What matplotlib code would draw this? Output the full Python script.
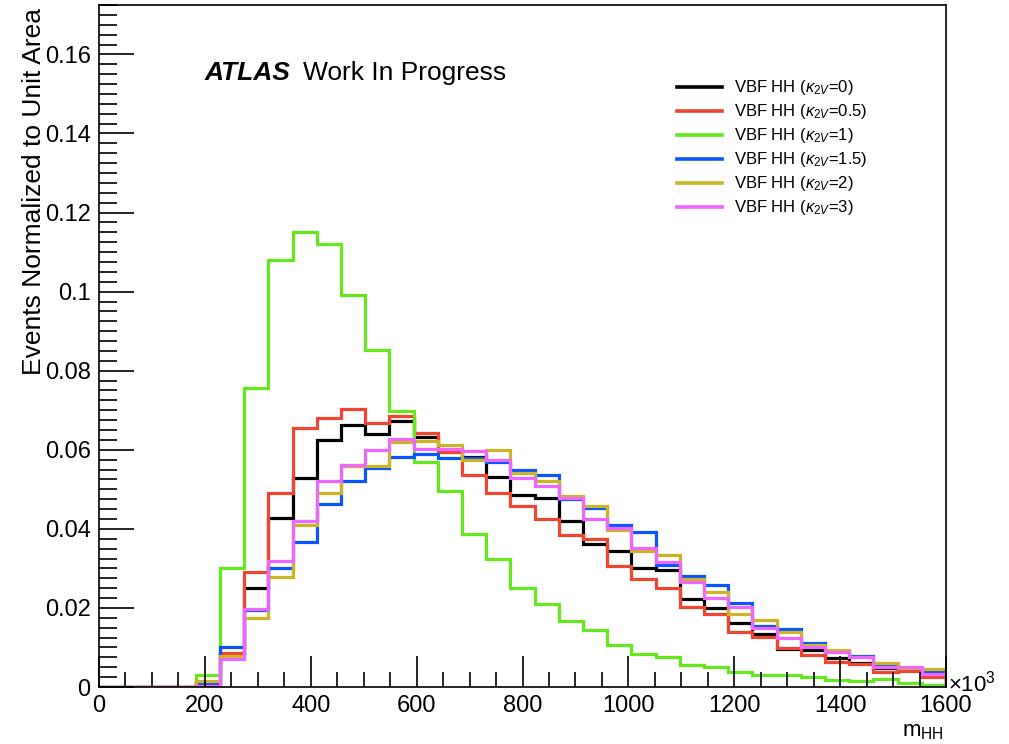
import matplotlib
matplotlib.use("Agg")
import matplotlib.pyplot as plt
from matplotlib.ticker import MultipleLocator
from matplotlib.lines import Line2D
import numpy as np

plt.rcParams['font.family'] = ['Liberation Sans', 'DejaVu Sans']
plt.rcParams['mathtext.fontset'] = 'custom'
plt.rcParams['mathtext.rm'] = 'Liberation Sans'
plt.rcParams['mathtext.it'] = 'Liberation Sans:italic'

# 35 bins from 0 to 1600 GeV (x10^3 MeV)
bin_edges = np.linspace(0, 1600, 36)

k2v_0 = [0, 0, 0, 0, 0.0010, 0.0084, 0.0250, 0.0427, 0.0528, 0.0624, 0.0662, 0.0640,
         0.0672, 0.0632, 0.0596, 0.0582, 0.0531, 0.0486, 0.0478, 0.0419, 0.0362, 0.0345,
         0.0301, 0.0296, 0.0223, 0.0201, 0.0161, 0.0133, 0.0095, 0.0094, 0.0073, 0.0060,
         0.0047, 0.0045, 0.0030]
k2v_05 = [0, 0, 0, 0, 0.0012, 0.0086, 0.0292, 0.0490, 0.0655, 0.0680, 0.0704, 0.0668,
          0.0686, 0.0642, 0.0595, 0.0537, 0.0490, 0.0458, 0.0425, 0.0385, 0.0374, 0.0306,
          0.0273, 0.0250, 0.0202, 0.0184, 0.0140, 0.0127, 0.0098, 0.0081, 0.0063, 0.0057,
          0.0039, 0.0041, 0.0026]
k2v_1 = [0, 0, 0, 0, 0.0030, 0.0301, 0.0756, 0.1079, 0.1151, 0.1121, 0.0991, 0.0852,
         0.0697, 0.0568, 0.0495, 0.0387, 0.0323, 0.0250, 0.0210, 0.0168, 0.0144, 0.0106,
         0.0084, 0.0075, 0.0056, 0.0051, 0.0039, 0.0030, 0.0030, 0.0025, 0.0018, 0.0016,
         0.0019, 0.0011, 0.0005]
k2v_15 = [0, 0, 0, 0, 0.0008, 0.0102, 0.0195, 0.0301, 0.0368, 0.0463, 0.0522, 0.0555,
          0.0582, 0.0590, 0.0579, 0.0580, 0.0570, 0.0549, 0.0535, 0.0475, 0.0452, 0.0410,
          0.0391, 0.0309, 0.0282, 0.0257, 0.0213, 0.0155, 0.0147, 0.0112, 0.0092, 0.0079,
          0.0058, 0.0048, 0.0040]
k2v_2 = [0, 0, 0, 0, 0.0015, 0.0079, 0.0174, 0.0279, 0.0410, 0.0490, 0.0560, 0.0558,
         0.0619, 0.0621, 0.0613, 0.0575, 0.0600, 0.0541, 0.0520, 0.0482, 0.0458, 0.0396,
         0.0343, 0.0334, 0.0273, 0.0241, 0.0184, 0.0170, 0.0139, 0.0106, 0.0094, 0.0075,
         0.0060, 0.0047, 0.0045]
k2v_3 = [0, 0, 0, 0, 0.0003, 0.0070, 0.0197, 0.0319, 0.0419, 0.0522, 0.0562, 0.0600,
         0.0627, 0.0603, 0.0603, 0.0596, 0.0573, 0.0528, 0.0509, 0.0478, 0.0425, 0.0402,
         0.0351, 0.0315, 0.0265, 0.0225, 0.0202, 0.0149, 0.0123, 0.0102, 0.0089, 0.0075,
         0.0051, 0.0050, 0.0033]

series = [k2v_0, k2v_05, k2v_1, k2v_15, k2v_2, k2v_3]
k_labels = ['0', '0.5', '1', '1.5', '2', '3']
colors = ['#000000', '#f04530', '#66e81e', '#0a55ff', '#ccb525', '#ee66ff']

fig = plt.figure(figsize=(10.09, 7.44), dpi=100)
ax = fig.add_axes([99/1009, 57/744, 847/1009, 682/744])

for vals, col in zip(series, colors):
    ax.stairs(vals, bin_edges, color=col, lw=2.3)

ax.set_xlim(0, 1600)
ax.set_ylim(0, 0.1725)
ax.xaxis.set_major_locator(MultipleLocator(200))
ax.xaxis.set_minor_locator(MultipleLocator(50))
ax.yaxis.set_major_locator(MultipleLocator(0.02))
ax.yaxis.set_minor_locator(MultipleLocator(0.0025))
ax.set_yticks(np.arange(0, 0.17, 0.02))
ax.set_yticklabels(['0', '0.02', '0.04', '0.06', '0.08', '0.1', '0.12', '0.14', '0.16'])
ax.tick_params(axis='both', which='both', direction='in', labelsize=17, width=1.2)
ax.tick_params(axis='x', which='major', length=22, pad=6)
ax.tick_params(axis='x', which='minor', length=11)
ax.tick_params(axis='y', which='major', length=25, pad=6)
ax.tick_params(axis='y', which='minor', length=13)
for sp in ax.spines.values():
    sp.set_linewidth(1.2)

fig.text(34/1009, 1 - 8/744, 'Events Normalized to Unit Area', rotation=90,
         ha='center', va='top', fontsize=19)
fig.text(944/1009, 1 - 731/744, r'm$_{\rm HH}$', ha='right', va='center', fontsize=16)
fig.text(948/1009, 1 - 684/744, r'$\times$10$^{3}$', ha='left', va='center', fontsize=16)

ax.text(205/1009, 1 - 73/744, 'ATLAS', transform=fig.transFigure, fontsize=19,
        fontweight='bold', fontstyle='italic', va='center', ha='left')
ax.text(303/1009, 1 - 73/744, 'Work In Progress', transform=fig.transFigure,
        fontsize=19, va='center', ha='left')

handles = [Line2D([], [], color=c, lw=2.6) for c in colors]
labels = [r'VBF HH ($\kappa_{2V}$=%s)' % k for k in k_labels]
ax.legend(handles, labels, loc='upper left', bbox_to_anchor=(669/1009, 1 - 70/744),
          bbox_transform=fig.transFigure, frameon=False, fontsize=12,
          handlelength=2.7, handletextpad=0.7, labelspacing=0.3, borderpad=0)

fig.savefig('out.png', dpi=100)
